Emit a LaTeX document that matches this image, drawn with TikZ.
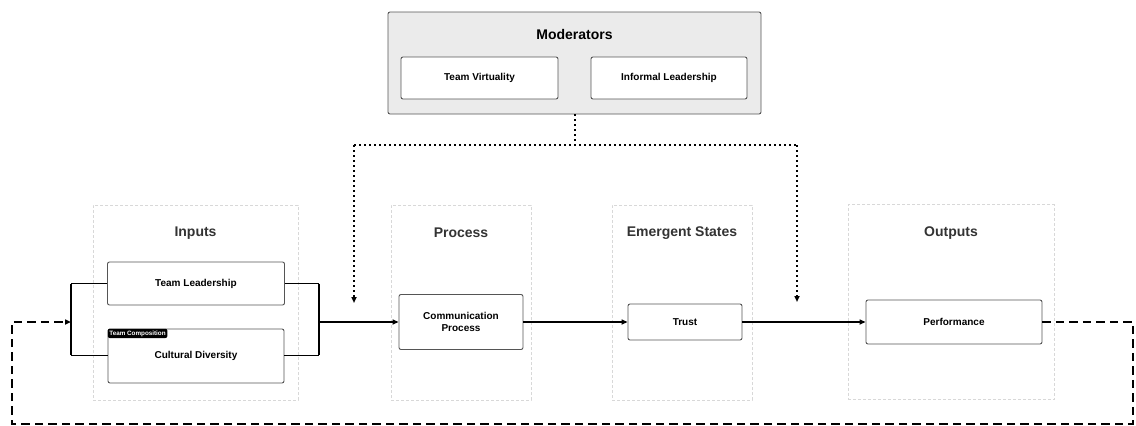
\documentclass[tikz,border=0pt]{standalone}
\usepackage{fontspec}
\setmainfont{Liberation Sans}
\usetikzlibrary{arrows.meta,calc}

\definecolor{titlegray}{HTML}{333333}
\definecolor{edgegray}{HTML}{555555}
\definecolor{groupline}{HTML}{D8D8D8}
\definecolor{modfill}{HTML}{EBEBEB}

\tikzset{
  varbox/.style={draw=edgegray, line width=0.9pt, rounded corners=2pt, fill=white,
    inner sep=0pt, align=center, font=\fontsize{10}{12}\selectfont\bfseries},
  groupbox/.style={draw=groupline, line width=0.8pt, dash pattern=on 3pt off 2pt, inner sep=0pt},
  grouptitle/.style={font=\fontsize{14}{16}\selectfont\bfseries, text=titlegray, inner sep=0pt},
  modbox/.style={draw=edgegray, line width=0.9pt, rounded corners=2pt, fill=modfill, inner sep=0pt},
  badge/.style={fill=black, text=white, rounded corners=2pt, inner sep=1.7pt,
    font=\fontsize{6.3}{7}\selectfont\bfseries},
  flow/.style={line width=1.5pt, -{Triangle[length=6pt,width=5pt]}},
  thinlink/.style={line width=1pt},
  bracket/.style={line width=2pt},
  modlink/.style={line width=2pt, dash pattern=on 2pt off 3pt},
  feedback/.style={line width=2.3pt, dash pattern=on 8.5pt off 5pt}
}

\begin{document}
\begin{tikzpicture}[x=1pt,y=-1pt]
\useasboundingbox (0,0) rectangle (1136,426);

% moderator panel
\node[modbox, minimum width=373pt, minimum height=102pt] (Mod) at (574.5,63) {};
\node[grouptitle, text=black] (ModTitle) at (574.5,34) {Moderators};
\node[varbox, minimum width=157pt, minimum height=42pt] (TV) at (479.5,78) {Team Virtuality};
\node[varbox, minimum width=156pt, minimum height=42pt] (IL) at (669,78) {Informal Leadership};

% stage groups
\node[groupbox, minimum width=205pt, minimum height=195pt] (GIn) at (195.5,302.5) {};
\node[groupbox, minimum width=140pt, minimum height=195pt] (GPr) at (461,302.5) {};
\node[groupbox, minimum width=140pt, minimum height=195pt] (GEm) at (682,302.5) {};
\node[groupbox, minimum width=206pt, minimum height=195pt] (GOut) at (951,302) {};
\node[grouptitle] (TIn) at (195.5,233) {Inputs};
\node[grouptitle] (TPr) at (461,233) {Process};
\node[grouptitle] (TEm) at (682,233) {Emergent States};
\node[grouptitle] (TOut) at (951,233) {Outputs};

% variables
\node[varbox, minimum width=177pt, minimum height=43pt] (TL) at (196,283.5) {Team Leadership};
\node[varbox, minimum width=176pt, minimum height=54pt] (CD) at (196,356) {Cultural Diversity};
\node[badge, anchor=north west] (TC) at (CD.north west) {Team Composition};
\node[varbox, minimum width=124pt, minimum height=55pt] (CP) at (461,322) {Communication\\Process};
\node[varbox, minimum width=114pt, minimum height=36pt] (TR) at (685,322) {Trust};
\node[varbox, minimum width=176pt, minimum height=44pt] (PF) at (954,322) {Performance};

% input bracket and main flow
\coordinate (lb) at (71,322);
\coordinate (rb) at (319,322);
\draw[thinlink] (TL.west) -- (TL.west -| lb);
\draw[thinlink] (CD.west |- 0,355) -- (lb |- 0,355);
\draw[thinlink] (TL.east) -- (TL.east -| rb);
\draw[thinlink] (CD.east |- 0,355) -- (rb |- 0,355);
\draw[bracket] (TL.west -| lb) -- (lb |- 0,355);
\draw[bracket] (TL.east -| rb) -- (rb |- 0,355);
\draw[flow] (rb) -- (CP.west);
\draw[flow] (CP.east) -- (TR.west);
\draw[flow] (TR.east) -- (PF.west);

% moderating effects
\coordinate (mj) at (574.5,145);
\coordinate (ml) at (354,145);
\coordinate (mr) at (797,145);
\coordinate (mlend) at (354,303);
\coordinate (mrend) at (797,302);
\draw[modlink] (Mod.south) -- (mj);
\draw[modlink] (ml) -- (mr);
\draw[modlink, -{Triangle[length=6pt,width=5pt]}] (ml) -- (mlend);
\draw[modlink, -{Triangle[length=6pt,width=5pt]}] (mr) -- (mrend);

% feedback loop
\coordinate (fr) at (1133,424);
\coordinate (fl) at (12,424);
\draw[feedback, -{Triangle[length=6pt,width=5pt]}]
  (PF.east) -- (PF.east -| fr) -- (fr) -- (fl) -- (fl |- lb) -- (lb);
\end{tikzpicture}
\end{document}
